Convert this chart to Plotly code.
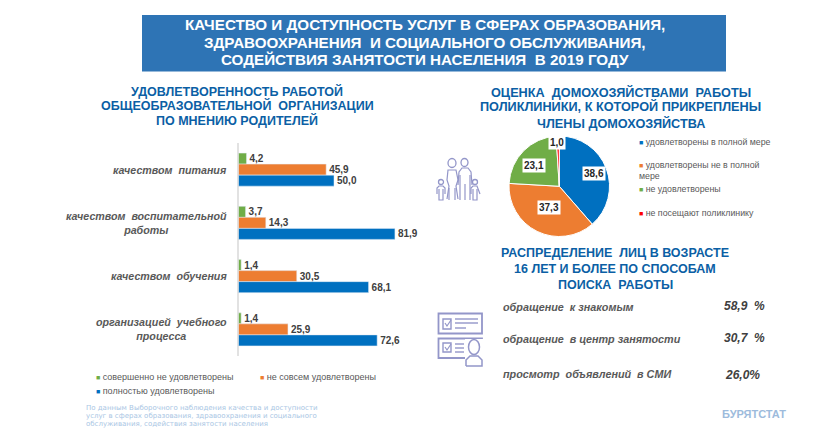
import plotly.graph_objects as go

W, H = 832, 432
FONT = "Liberation Sans"

# ---- data ----
categories = ["качеством  питания", "качеством  воспитательной<br>работы",
              "качеством  обучения", "организацией  учебного<br>процесса"]
bar_series = ["совершенно не удовлетворены", "не совсем удовлетворены", "полностью удовлетворены"]
green_values = [4.2, 3.7, 1.4, 1.4]
orange_values = [45.9, 14.3, 30.5, 25.9]
blue_values = [50.0, 81.9, 68.1, 72.6]

pie_labels = ["удовлетворены в полной мере", "удовлетворены не в полной мере",
              "не удовлетворены", "не посещают поликлинику"]
pie_values = [38.6, 37.3, 23.1, 1.0]

job_methods = ["обращение  к знакомым", "обращение  в центр занятости", "просмотр  объявлений  в СМИ"]
job_values = ["58,9  %", "30,7  %", "26,0%"]

BLUE, ORANGE, GREEN, RED = "#0070c0", "#ed7d31", "#70ad47", "#ff0000"
HEAD = "#0b5fa5"
GREY = "#595959"
ICON = "#9396c9"


def px(x):
    return x / W


def py(y):
    return 1 - y / H


fig = go.Figure()
for name, vals, col in zip(bar_series, [green_values, orange_values, blue_values], [GREEN, ORANGE, BLUE]):
    fig.add_trace(go.Bar(
        y=categories, x=vals, name=name, orientation="h", marker_color=col,
        texttemplate="%{x:.1f}", textposition="outside", cliponaxis=False,
        textfont=dict(family=FONT, size=10, color="#404040", weight="bold"),
        showlegend=False))

fig.add_trace(go.Pie(
    labels=pie_labels, values=pie_values, sort=False, direction="clockwise", rotation=0,
    marker=dict(colors=[BLUE, ORANGE, GREEN, RED], line=dict(color="white", width=1)),
    textinfo="none", showlegend=False, hoverinfo="label+value",
    domain=dict(x=[px(509), px(609.5)], y=[py(236.5), py(136)])))

ann = []


def text(x, y, s, size, color, bold=False, italic=False, anchor="center", family=FONT, **kw):
    ann.append(dict(
        x=px(x), y=py(y), xref="paper", yref="paper", text=s, showarrow=False,
        xanchor=anchor, yanchor="middle",
        font=dict(family=family, size=size, color=color,
                  weight="bold" if bold else "normal",
                  style="italic" if italic else "normal"), **kw))


# main title
for y, s in zip([25, 42.3, 59.6], ["КАЧЕСТВО И ДОСТУПНОСТЬ УСЛУГ В СФЕРАХ ОБРАЗОВАНИЯ,",
                                   "ЗДРАВООХРАНЕНИЯ  И СОЦИАЛЬНОГО ОБСЛУЖИВАНИЯ,",
                                   "СОДЕЙСТВИЯ ЗАНЯТОСТИ НАСЕЛЕНИЯ  В 2019 ГОДУ"]):
    text(425, y, s, 15.2, "white", bold=True)

# section headings
for y, s in zip([91, 106, 121], ["УДОВЛЕТВОРЕННОСТЬ РАБОТОЙ", "ОБЩЕОБРАЗОВАТЕЛЬНОЙ  ОРГАНИЗАЦИИ", "ПО МНЕНИЮ РОДИТЕЛЕЙ"]):
    text(237, y, s, 12.5, HEAD, bold=True)
for y, s in zip([92, 107, 123], ["ОЦЕНКА  ДОМОХОЗЯЙСТВАМИ  РАБОТЫ", "ПОЛИКЛИНИКИ, К КОТОРОЙ ПРИКРЕПЛЕНЫ", "ЧЛЕНЫ ДОМОХОЗЯЙСТВА"]):
    text(620.5, y, s, 12.7, HEAD, bold=True)
for y, s in zip([253, 269, 285], ["РАСПРЕДЕЛЕНИЕ  ЛИЦ В ВОЗРАСТЕ", "16 ЛЕТ И БОЛЕЕ ПО СПОСОБАМ", "ПОИСКА  РАБОТЫ"]):
    text(615, y, s, 12.5, HEAD, bold=True)

# category labels, placed on the bar axis' own categories
for c in categories:
    ann.append(dict(x=px(229), y=c, xref="paper", yref="y", text=c, showarrow=False,
                    xanchor="right", align="center",
                    font=dict(family=FONT, size=10.7, color=GREY, weight="bold", style="italic")))

# bar legend
for x, y, name, col in [(94, 377, bar_series[0], GREEN), (258, 377, bar_series[1], ORANGE), (94, 391, bar_series[2], BLUE)]:
    text(x, y, f"<span style='color:{col};font-size:7px'>■</span> {name}", 9, "#595959", anchor="left")

# pie legend
for (y, s), col in zip([(142, "удовлетворены в полной мере"), (171, "удовлетворены не в полной<br>мере"),
                        (189, "не удовлетворены"), (213, "не посещают поликлинику")],
                       [BLUE, ORANGE, GREEN, RED]):
    text(637, y, f"<span style='color:{col};font-size:7px'>■</span> {s}", 8.8, "#595959", anchor="left", align="left")

# pie value labels
for (x, y), v in zip([(594, 173), (549, 207), (534, 165), (557, 142)], pie_values):
    text(x, y, f"{v:.1f}".replace(".", ","), 10, "#262626", bold=True, bgcolor="white", borderpad=1)

# job search rows
for y, s in zip([307, 339, 374], job_methods):
    text(501, y, s, 10.8, GREY, bold=True, italic=True, anchor="left")
for (x, y), s in zip([(722, 306), (722, 338), (723, 375)], job_values):
    text(x, y, s, 12, "#404040", bold=True, italic=True, anchor="left")

# footnote and agency
for y, s in zip([408, 416, 424], ["По данным Выборочного наблюдения качества и доступности",
                                  "услуг в сферах образования, здравоохранения и социального",
                                  "обслуживания, содействия занятости населения"]):
    text(84, y, s, 7, "#a9c6e4", anchor="left", family="DejaVu Sans")
text(720, 414, "БУРЯТСТАТ", 11, "#9dbbdc", bold=True, anchor="left")

# shapes: title box, axis line and pictograms
shapes = [dict(type="rect", xref="paper", yref="paper", x0=px(142), x1=px(726), y0=py(71.5), y1=py(15),
               fillcolor="#2e74b5", line_width=0, layer="below"),
          dict(type="line", xref="paper", yref="paper", x0=px(238), x1=px(238), y0=py(356), y1=py(143),
               line=dict(color="#d9d9d9", width=1.5), layer="below")]


def rect(x0, y0, x1, y1, w=1.4):
    shapes.append(dict(type="rect", xref="paper", yref="paper", x0=px(x0), x1=px(x1), y0=py(y1), y1=py(y0),
                       line=dict(color=ICON, width=w)))


def ellipse(cx, cy, rx, ry, w=1.3):
    shapes.append(dict(type="circle", xref="paper", yref="paper", x0=px(cx - rx), x1=px(cx + rx),
                       y0=py(cy + ry), y1=py(cy - ry), line=dict(color=ICON, width=w)))


def hline(x0, x1, y, w=1.4):
    shapes.append(dict(type="line", xref="paper", yref="paper", x0=px(x0), x1=px(x1), y0=py(y), y1=py(y),
                       line=dict(color=ICON, width=w)))


def poly(points, w=1.2):
    d = "M" + " L".join(f"{px(a):.5f},{py(b):.5f}" for a, b in points)
    shapes.append(dict(type="path", xref="paper", yref="paper", path=d, line=dict(color=ICON, width=w)))


# family pictogram
ellipse(452, 163, 4, 4.5)
ellipse(464.5, 162.5, 3.5, 4)
ellipse(441, 182, 2.5, 2.5)
ellipse(475, 182, 2.5, 2.5)
poly([(447, 199), (449, 186), (447, 180), (448, 170), (456, 170), (458, 180), (456, 186), (458, 199)])
poly([(449, 188), (449, 200)])
poly([(455, 188), (455, 200)])
poly([(458, 185), (459, 172), (462, 168), (468, 168), (471, 172), (472, 185)])
poly([(460, 175), (460, 200)])
poly([(465, 184), (465, 200)])
poly([(470, 175), (470, 200)])
poly([(437, 194), (437, 188), (439, 186), (443, 186), (445, 188), (445, 194)])
poly([(439, 189), (439, 200), (443, 200), (443, 189)])
poly([(471, 194), (471, 188), (473, 186), (477, 186), (480, 194)])
poly([(473, 189), (473, 200), (477, 200), (477, 189)])

# checklist pictogram
rect(438.5, 313.5, 482, 333.5, w=1.8)
rect(438.5, 338.5, 482, 358, w=1.8)
rect(443, 319, 451, 329)
rect(443, 343, 451, 352)
poly([(445, 323), (447, 326), (451, 320)])
poly([(445, 347), (447, 350), (451, 344)])
hline(455, 478, 319)
hline(455, 478, 323)
hline(455, 466, 328)
hline(455, 464, 344)
hline(455, 464, 348)
hline(455, 464, 352)
shapes.append(dict(type="rect", xref="paper", yref="paper", x0=px(465), x1=px(484), y0=py(367), y1=py(339),
                   line_width=0, fillcolor="white"))
ellipse(474, 347, 5.5, 7.5, w=1.5)
poly([(466, 366), (466, 360), (470, 356), (478, 356), (482, 360), (482, 366), (466, 366)], w=1.5)

fig.update_layout(
    width=W, height=H, margin=dict(l=0, r=0, t=0, b=0),
    paper_bgcolor="white", plot_bgcolor="white",
    barmode="group", bargap=0.38, bargroupgap=0, separators=", ",
    font=dict(family=FONT),
    xaxis=dict(domain=[px(238.5), px(238.5 + 191)], range=[0, 100], visible=False),
    yaxis=dict(domain=[py(356), py(143)], type="category", categoryorder="array",
               categoryarray=categories, autorange="reversed", showticklabels=False,
               ticks="", showgrid=False, zeroline=False, showline=False),
    annotations=ann, shapes=shapes,
)

fig.write_html("out.html", config={"displayModeBar": False}, post_script="document.body.style.margin='0';")
